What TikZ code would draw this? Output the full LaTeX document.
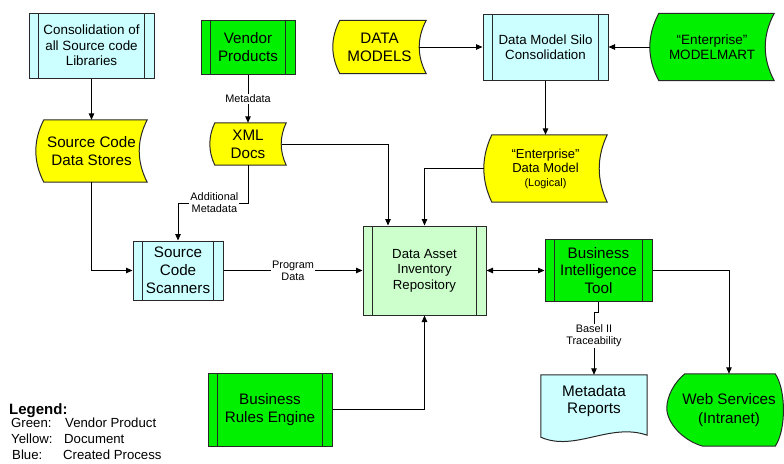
\documentclass[tikz,border=0pt]{standalone}
\usepackage{fontspec}
\setmainfont{Liberation Sans}
\usetikzlibrary{arrows.meta,calc}

\definecolor{vendorgreen}{RGB}{0,240,0}
\definecolor{docyellow}{RGB}{255,255,0}
\definecolor{procblue}{RGB}{204,255,255}
\definecolor{repogreen}{RGB}{204,255,204}
\definecolor{edge}{RGB}{40,40,40}

\pgfdeclarelayer{bg}
\pgfsetlayers{bg,main}

\newcommand\bigf{\fontsize{15.2}{17.8}\selectfont}
\newcommand\midf{\fontsize{13.3}{15.4}\selectfont}
\newcommand\lblf{\fontsize{10.9}{12.2}\selectfont}

% stored-data outline: bulging left side, hollow right side
\newcommand\drawstored[3]{%
  \begin{pgfonlayer}{bg}
  \path[outline,fill=#3] let \p1=(#1.north west), \p2=(#1.south east),
      \n1={(\y1-\y2)/3} in
    (\x1+#2,\y1) -- (\x2,\y1)
    .. controls (\x2-1.33*#2,\y1-\n1) and (\x2-1.33*#2,\y2+\n1) .. (\x2,\y2)
    -- (\x1+#2,\y2)
    .. controls (\x1-0.33*#2,\y2+\n1) and (\x1-0.33*#2,\y1-\n1) .. (\x1+#2,\y1)
    -- cycle;
  \end{pgfonlayer}}

% document outline with a wavy lower edge
\newcommand\drawdoc[2]{%
  \begin{pgfonlayer}{bg}
  \path[outline,fill=#2] let \p1=(#1.north west), \p2=(#1.south east) in
    (\x1,\y1) -- (\x2,\y1) -- (\x2,\y2-8pt)
    .. controls (\x1+69pt,\y2+5pt) and (\x1+34pt,\y2-25pt) .. (\x1,\y2-10pt)
    -- cycle;
  \end{pgfonlayer}}

% display outline: rounded point on the left, curved right side
\newcommand\drawdisplay[2]{%
  \begin{pgfonlayer}{bg}
  \path[outline,fill=#2] let \p1=(#1.north west), \p2=(#1.south east) in
    (\x1+18pt,\y1) -- (\x2-16pt,\y1)
    .. controls (\x2-5pt,\y1-16pt) and (\x2-5pt,\y2+16pt) .. (\x2-16pt,\y2)
    -- (\x1+36pt,\y2)
    .. controls (\x1+15pt,\y2+6pt) and (\x1,\y2+24pt) .. (\x1,\y2+38pt)
    .. controls (\x1,\y1-22pt) and (\x1+8pt,\y1-8pt) .. (\x1+18pt,\y1)
    -- cycle;
  \end{pgfonlayer}}

\begin{document}
\begin{tikzpicture}[x=1pt,y=-1pt,
  outline/.style={draw=edge,line width=1pt},
  proc/.style={outline,fill=#1,inner sep=0pt,align=center,
    path picture={\draw[outline]
      ([xshift=9.5pt]path picture bounding box.north west) --
      ([xshift=9.5pt]path picture bounding box.south west)
      ([xshift=-9.5pt]path picture bounding box.north east) --
      ([xshift=-9.5pt]path picture bounding box.south east);}},
  stored/.style={inner sep=0pt,align=center},
  dims/.style 2 args={minimum width=#1pt,minimum height=#2pt},
  conn/.style={draw=black,line width=0.9pt,>={Triangle[length=6.5pt,width=5.5pt]}},
  lbl/.style={fill=white,inner sep=1pt,align=center,font=\lblf},
  legend/.style={anchor=base west,inner sep=0pt,font=\fontsize{13.2}{15}\selectfont},
]
\useasboundingbox (0,0) rectangle (784,463);

% ---- processes ----
\node[proc=procblue,dims={125}{65},font=\fontsize{13.4}{15.5}\selectfont]
  (cons) at (91.5,45.5) {Consolidation of\\all Source code\\Libraries};
\node[proc=vendorgreen,dims={94}{54},font=\bigf]
  (vendor) at (248,47) {Vendor\\Products};
\node[proc=procblue,dims={125}{66},font=\midf]
  (silo) at (545.5,47) {Data Model Silo\\Consolidation};
\node[proc=procblue,dims={90}{59},font=\bigf]
  (scan) at (178,270.5) {Source\\Code\\Scanners};
\node[proc=repogreen,dims={123}{89},font=\fontsize{13.2}{15.5}\selectfont]
  (repo) at (424.5,270.5) {Data Asset\\Inventory\\Repository};
\node[proc=vendorgreen,dims={107}{62},font=\bigf]
  (bi) at (598.5,270.5) {Business\\Intelligence\\Tool};
\node[proc=vendorgreen,dims={124}{73},font=\bigf]
  (bre) at (270,409.5) {Business\\Rules Engine};

% ---- stored data / documents ----
\node[stored,dims={93}{53},font=\bigf] (dm) at (379.5,47) {DATA\\MODELS};
\drawstored{dm}{7pt}{docyellow}
\node[stored,dims={124}{67},font=\fontsize{13.5}{15.2}\selectfont]
  (mm) at (712,47) {“Enterprise”\\MODELMART};
\drawstored{mm}{9pt}{vendorgreen}
\node[stored,dims={111}{62},font=\bigf] (scds) at (91.5,151) {Source Code\\Data Stores};
\drawstored{scds}{8pt}{docyellow}
\node[stored,dims={76}{42},font=\fontsize{15.2}{18}\selectfont]
  (xml) at (248,144) {XML\\Docs};
\drawstored{xml}{5pt}{docyellow}
\node[stored,dims={123}{67},font=\fontsize{13}{14}\selectfont]
  (edm) at (545.5,168.5) {“Enterprise”\\Data Model\\{\fontsize{10.9}{14}\selectfont(Logical)}};
\drawstored{edm}{8pt}{docyellow}

\node[stored,dims={106}{52},font=\fontsize{15.3}{17.2}\selectfont]
  (mr) at (594,401) {Metadata\\Reports};
\drawdoc{mr}{procblue}
\node[stored,dims={124}{72},font=\fontsize{15.2}{19}\selectfont]
  (ws) at (729,410) {Web Services\\(Intranet)};
\drawdisplay{ws}{vendorgreen}

% ---- connectors ----
\draw[conn,->] (cons) -- (scds);
\draw[conn,->] (vendor) -- node[lbl]{Metadata} (xml);
\draw[conn,->] ([xshift=-7pt]dm.east) -- (silo.west);
\draw[conn,->] (mm.west) -- (silo.east);
\draw[conn,->] (silo) -- (edm);
\draw[conn,->] ([xshift=-4pt]xml.east) -| ([xshift=-36.5pt]repo.north);
\draw[conn,->] (edm.west) -| (repo.north);
\coordinate (addj) at (178,203);
\draw[conn,->] (xml.south) |- node[lbl,pos=0.74]{Additional\\Metadata} (addj) -- (scan.north);
\draw[conn,->] (scds.south) |- (scan.west);
\draw[conn,->] (scan.east) -- node[lbl]{Program\\Data} (repo.west);
\draw[conn,<->] (repo.east) -- (bi.west);
\draw[conn,->] (bre.east) -| (repo.south);
\draw[conn,->] (bi.south) -- ++(0,10) -| node[lbl,pos=0.69]{Basel II\\Traceability} (mr.north);
\draw[conn,->] (bi.east) -| (ws.north);

% ---- legend ----
\node[anchor=base west,inner sep=0pt,font=\fontsize{15}{18}\selectfont\bfseries]
  (legT) at (9,414.5) {Legend:};
\node[legend] (legG)  at (11,427.7) {Green:};
\node[legend] (legGt) at (65,427.7) {Vendor Product};
\node[legend] (legY)  at (11,443.7) {Yellow:};
\node[legend] (legYt) at (64,443.7) {Document};
\node[legend] (legB)  at (12,459.7) {Blue:};
\node[legend] (legBt) at (63,459.7) {Created Process};
\end{tikzpicture}
\end{document}
